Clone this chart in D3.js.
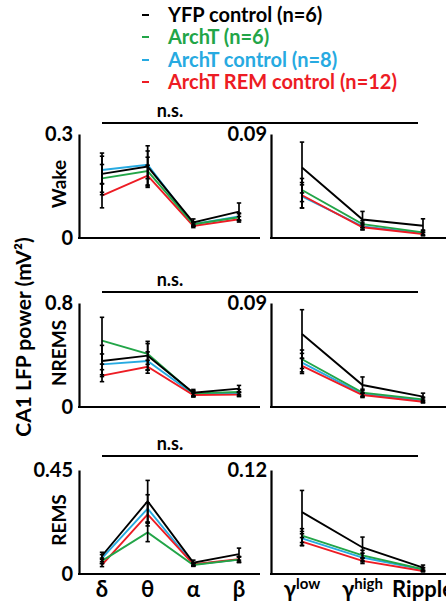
<!DOCTYPE html>
<html>
<head>
<meta charset="UTF-8">
<title>CA1 LFP power</title>
<script src="https://cdn.jsdelivr.net/npm/d3@7"></script>
<style>
  body { margin: 0; background: #fff; }
  text { font-family: Lato, "Open Sans", sans-serif; font-weight: bold; }
</style>
</head>
<body>
<div id="chart"></div>
<script>
// series and colours
var seriesNames = ["YFP control (n=6)", "ArchT (n=6)", "ArchT control (n=8)", "ArchT REM control (n=12)"];
var seriesColors = ["#000000", "#22a548", "#27aae1", "#ed1c24"];

// frequency bands
var lowBands = ["δ", "θ", "α", "β"];
var highBands = ["γlow", "γhigh", "Ripple"];

// brain states and y-axis maxima
var states = ["Wake", "NREMS", "REMS"];
var lowMax = [0.3, 0.8, 0.45];
var highMax = [0.09, 0.09, 0.12];
var lowMaxLabel = ["0.3", "0.8", "0.45"];
var highMaxLabel = ["0.09", "0.09", "0.12"];

// means: one row per series (YFP, ArchT, ArchT control, ArchT REM control)
var wakeLow = [[0.185, 0.206, 0.045, 0.076], [0.172, 0.193, 0.040, 0.060], [0.196, 0.211, 0.040, 0.062], [0.122, 0.180, 0.035, 0.054]];
var wakeLowErr = [[0.06, 0.06, 0.01, 0.025], [0.04, 0.04, 0.006, 0.01], [0.04, 0.04, 0.006, 0.01], [0.035, 0.03, 0.005, 0.008]];
var wakeHigh = [[0.061, 0.016, 0.0106], [0.0415, 0.012, 0.0049], [0.036, 0.010, 0.0042], [0.037, 0.0093, 0.0035]];
var wakeHighErr = [[0.022, 0.007, 0.006], [0.01, 0.003, 0.002], [0.01, 0.003, 0.002], [0.011, 0.002, 0.0015]];

var nremLow = [[0.354, 0.395, 0.11, 0.141], [0.51, 0.408, 0.105, 0.115], [0.328, 0.354, 0.10, 0.10], [0.241, 0.31, 0.092, 0.095]];
var nremLowErr = [[0.12, 0.11, 0.025, 0.025], [0.18, 0.08, 0.02, 0.02], [0.08, 0.07, 0.02, 0.015], [0.046, 0.05, 0.015, 0.015]];
var nremHigh = [[0.0632, 0.019, 0.009], [0.0413, 0.0124, 0.0066], [0.0384, 0.0112, 0.0058], [0.0355, 0.0104, 0.0046]];
var nremHighErr = [[0.021, 0.007, 0.003], [0.008, 0.003, 0.002], [0.008, 0.003, 0.002], [0.0065, 0.0015, 0.001]];

var remLow = [[0.079, 0.315, 0.049, 0.086], [0.057, 0.180, 0.039, 0.062], [0.069, 0.283, 0.041, 0.062], [0.039, 0.258, 0.042, 0.064]];
var remLowErr = [[0.015, 0.09, 0.011, 0.026], [0.012, 0.04, 0.006, 0.012], [0.015, 0.06, 0.006, 0.012], [0.007, 0.05, 0.006, 0.012]];
var remHigh = [[0.0714, 0.0306, 0.0073], [0.0443, 0.0214, 0.0055], [0.0411, 0.019, 0.005], [0.0373, 0.0151, 0.0035]];
var remHighErr = [[0.025, 0.012, 0.003], [0.008, 0.006, 0.002], [0.008, 0.005, 0.002], [0.0047, 0.003, 0.001]];

var lowData = [wakeLow, nremLow, remLow];
var lowErr = [wakeLowErr, nremLowErr, remLowErr];
var highData = [wakeHigh, nremHigh, remHigh];
var highErr = [wakeHighErr, nremHighErr, remHighErr];

var width = 446, height = 604;
var svg = d3.select("#chart").append("svg")
    .attr("width", width)
    .attr("height", height);

// panel layout
var panelTop = [134, 303, 470];
var panelH = 104;
var nsY = [123, 292, 456];
var leftAxisX = 79, leftEndX = 260;
var rightAxisX = 271, rightEndX = 450;

var xLow = d3.scalePoint().domain(lowBands).range([102, 239]);
var xHigh = d3.scalePoint().domain(highBands).range([302, 423]);

// draw order: blue, red, green, black
var drawOrder = [2, 3, 1, 0];

function drawPanel(g, x, y, means, errs, bands) {
    var line = d3.line()
        .x(function (d, i) { return x(bands[i]); })
        .y(function (d) { return y(d); });

    drawOrder.forEach(function (s) {
        g.append("path")
            .datum(means[s])
            .attr("d", line)
            .attr("fill", "none")
            .attr("stroke", seriesColors[s])
            .attr("stroke-width", 1.9);
    });

    // error bars (all black)
    drawOrder.forEach(function (s) {
        var eb = g.selectAll(null)
            .data(means[s])
            .enter().append("g");
        eb.append("line")
            .attr("x1", function (d, i) { return x(bands[i]); })
            .attr("x2", function (d, i) { return x(bands[i]); })
            .attr("y1", function (d, i) { return y(d + errs[s][i]); })
            .attr("y2", function (d, i) { return y(d - errs[s][i]); })
            .attr("stroke", "#000")
            .attr("stroke-width", 1.7);
        [1, -1].forEach(function (sign) {
            eb.append("line")
                .attr("x1", function (d, i) { return x(bands[i]) - 2.2; })
                .attr("x2", function (d, i) { return x(bands[i]) + 2.2; })
                .attr("y1", function (d, i) { return y(d + sign * errs[s][i]); })
                .attr("y2", function (d, i) { return y(d + sign * errs[s][i]); })
                .attr("stroke", "#000")
                .attr("stroke-width", 1.6);
        });
    });
}

states.forEach(function (state, p) {
    var top = panelTop[p], bottom = top + panelH;
    var yL = d3.scaleLinear().domain([0, lowMax[p]]).range([bottom, top]);
    var yH = d3.scaleLinear().domain([0, highMax[p]]).range([bottom, top]);

    // y axes
    svg.append("g")
        .attr("transform", "translate(" + leftAxisX + ",0)")
        .call(d3.axisLeft(yL).tickValues([0, lowMax[p]]).tickSize(0).tickPadding(6)
            .tickFormat(function (d) { return d === 0 ? "0" : lowMaxLabel[p]; }))
        .call(function (a) {
            a.select(".domain").attr("stroke-width", 2.2);
            a.selectAll("text").attr("font-size", 20).attr("fill", "#000")
                .style("font-family", "Lato, sans-serif").style("font-weight", "bold");
        });
    svg.append("g")
        .attr("transform", "translate(" + rightAxisX + ",0)")
        .call(d3.axisLeft(yH).tickValues([highMax[p]]).tickSize(0).tickPadding(4)
            .tickFormat(function () { return highMaxLabel[p]; }))
        .call(function (a) {
            a.select(".domain").attr("stroke-width", 2.2);
            a.selectAll("text").attr("font-size", 20).attr("fill", "#000")
                .style("font-family", "Lato, sans-serif").style("font-weight", "bold");
        });

    // x axis lines
    svg.append("line").attr("x1", leftAxisX - 1).attr("x2", leftEndX)
        .attr("y1", bottom).attr("y2", bottom).attr("stroke", "#000").attr("stroke-width", 2.2);
    svg.append("line").attr("x1", rightAxisX - 1).attr("x2", rightEndX)
        .attr("y1", bottom).attr("y2", bottom).attr("stroke", "#000").attr("stroke-width", 2.2);

    // state label
    svg.append("text")
        .attr("transform", "translate(66," + ((top + bottom) / 2 - 2) + ") rotate(-90)")
        .attr("text-anchor", "middle")
        .attr("font-size", 19)
        .text(state);

    // n.s. bracket
    svg.append("line").attr("x1", 102).attr("x2", 418)
        .attr("y1", nsY[p]).attr("y2", nsY[p]).attr("stroke", "#000").attr("stroke-width", 1.8);
    svg.append("text")
        .attr("x", 170).attr("y", nsY[p] - 6)
        .attr("text-anchor", "middle")
        .attr("font-size", 18)
        .text("n.s.");

    drawPanel(svg.append("g"), xLow, yL, lowData[p], lowErr[p], lowBands);
    drawPanel(svg.append("g"), xHigh, yH, highData[p], highErr[p], highBands);
});

// x tick labels for bottom panels
var labY = 597;
svg.append("g").selectAll("text")
    .data(lowBands)
    .enter().append("text")
    .attr("x", function (d) { return xLow(d); })
    .attr("y", labY)
    .attr("text-anchor", "middle")
    .attr("font-size", 22)
    .text(function (d) { return d; });

svg.append("g").selectAll("text")
    .data(highBands)
    .enter().append("text")
    .attr("x", function (d) { return xHigh(d); })
    .attr("y", labY)
    .attr("text-anchor", "middle")
    .attr("font-size", 22)
    .each(function (d) {
        var t = d3.select(this);
        if (d.indexOf("γ") === 0) {
            t.append("tspan").text("γ");
            t.append("tspan").attr("font-size", 15).attr("dy", -8).text(d.slice(1));
        } else {
            t.text(d);
        }
    });

// big y label
svg.append("text")
    .attr("transform", "translate(31,337) rotate(-90)")
    .attr("text-anchor", "middle")
    .attr("font-size", 21)
    .text("CA1 LFP power (mV²)");

// legend
var legendY = [22, 44, 67, 89];
var legend = svg.append("g");
seriesNames.forEach(function (name, i) {
    legend.append("line")
        .attr("x1", 142).attr("x2", 149)
        .attr("y1", legendY[i] - 7).attr("y2", legendY[i] - 7)
        .attr("stroke", seriesColors[i]).attr("stroke-width", 2);
    legend.append("text")
        .attr("x", 168).attr("y", legendY[i])
        .attr("font-size", 20)
        .attr("fill", seriesColors[i])
        .text(name);
});
</script>
</body>
</html>
